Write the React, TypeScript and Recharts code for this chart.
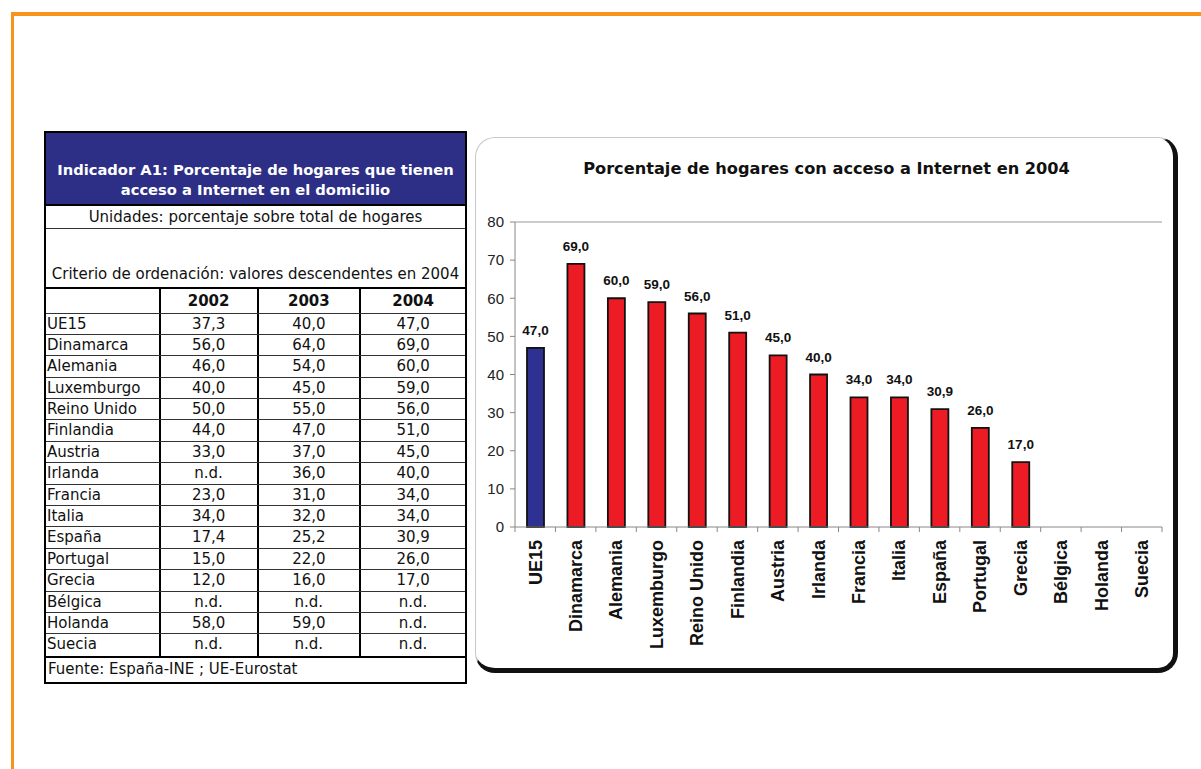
import React from "react";
import { BarChart, Bar, XAxis, YAxis, LabelList, ReferenceLine, Cell } from "recharts";

const countries = [
  "UE15", "Dinamarca", "Alemania", "Luxemburgo", "Reino Unido", "Finlandia", "Austria", "Irlanda",
  "Francia", "Italia", "España", "Portugal", "Grecia", "Bélgica", "Holanda", "Suecia",
];
const share2002 = ["37,3", "56,0", "46,0", "40,0", "50,0", "44,0", "33,0", "n.d.", "23,0", "34,0", "17,4", "15,0", "12,0", "n.d.", "58,0", "n.d."];
const share2003 = ["40,0", "64,0", "54,0", "45,0", "55,0", "47,0", "37,0", "36,0", "31,0", "32,0", "25,2", "22,0", "16,0", "n.d.", "59,0", "n.d."];
const share2004: (number | null)[] = [47, 69, 60, 59, 56, 51, 45, 40, 34, 34, 30.9, 26, 17, null, null, null];
const years = ["2002", "2003", "2004"];
const yTicks = [0, 10, 20, 30, 40, 50, 60, 70, 80];

const fmt = (v: number | null | undefined) => (v == null ? "n.d." : v.toFixed(1).replace(".", ","));

const data = countries.map((name, i) => ({ name, value: share2004[i] }));

// chart geometry
const CHART_W = 700;
const CHART_H = 520;
const Y_W = 45;
const X_H = 120;
const MARGIN = { top: 82, right: 8, left: 0, bottom: 13 };
const PLOT_W = CHART_W - Y_W - MARGIN.right;

const tableFont = "'DejaVu Sans', Verdana, sans-serif";
const chartFont = "'Liberation Sans', Arial, sans-serif";
const COLS = [118, 98, 103, 104];
const ROW_H = 21.4;

function CountryTick(props: any) {
  const { x, y, payload, index } = props;
  const half = PLOT_W / countries.length / 2;
  return (
    <g>
      <line x1={x - half} x2={x - half} y1={y} y2={y + 5} stroke="#888" />
      {index === countries.length - 1 && <line x1={x + half} x2={x + half} y1={y} y2={y + 5} stroke="#888" />}
      <text
        x={0}
        y={0}
        dy="0.35em"
        transform={`translate(${x},${y + 13}) rotate(-90)`}
        textAnchor="end"
        fontFamily={chartFont}
        fontWeight="bold"
        fontSize={18}
        fill="#111"
      >
        {payload.value}
      </text>
    </g>
  );
}

function Row({ cells, height, bold, last }: { cells: string[]; height: number; bold?: boolean; last?: boolean }) {
  return (
    <div style={{ display: "flex", height, borderBottom: last ? "none" : "1px solid #333", boxSizing: "border-box" }}>
      {cells.map((c, i) => (
        <div
          key={i}
          style={{
            width: COLS[i] - (i === 0 ? 3 : 0),
            boxSizing: "border-box",
            borderRight: i < 3 ? "2.5px solid #000" : "none",
            textAlign: i === 0 ? "left" : "center",
            paddingLeft: i === 0 ? 1 : 0,
            fontWeight: bold ? "bold" : "normal",
            lineHeight: `${height - 1}px`,
            whiteSpace: "nowrap",
          }}
        >
          {c}
        </div>
      ))}
    </div>
  );
}

function DataTable() {
  return (
    <div
      style={{
        position: "absolute",
        left: 44,
        top: 131,
        width: 423,
        boxSizing: "border-box",
        border: "2.5px solid #000",
        fontFamily: tableFont,
        fontSize: 15,
        color: "#111",
        background: "#fff",
      }}
    >
      <div
        style={{
          height: 72.5,
          background: "#2d2f86",
          color: "#fff",
          fontWeight: "bold",
          fontSize: 14.7,
          textAlign: "center",
          display: "flex",
          flexDirection: "column",
          justifyContent: "flex-end",
          paddingBottom: 4,
          boxSizing: "border-box",
          lineHeight: "20px",
          borderBottom: "2px solid #000",
        }}
      >
        <div>Indicador A1: Porcentaje de hogares que tienen</div>
        <div>acceso a Internet en el domicilio</div>
      </div>
      <div style={{ height: 23, textAlign: "center", lineHeight: "22px", borderBottom: "1px solid #333", boxSizing: "border-box" }}>
        Unidades: porcentaje sobre total de hogares
      </div>
      <div
        style={{
          height: 60,
          textAlign: "center",
          display: "flex",
          alignItems: "flex-end",
          justifyContent: "center",
          paddingBottom: 4,
          borderBottom: "2px solid #000",
          boxSizing: "border-box",
          whiteSpace: "nowrap",
        }}
      >
        Criterio de ordenación: valores descendentes en 2004
      </div>
      <Row cells={["", ...years]} height={25} bold />
      {countries.map((c, i) => (
        <Row key={c} cells={[c, share2002[i], share2003[i], fmt(share2004[i])]} height={ROW_H} last={i === countries.length - 1} />
      ))}
      <div style={{ height: 26, borderTop: "2px solid #000", lineHeight: "23px", paddingLeft: 2, boxSizing: "border-box" }}>
        Fuente: España-INE ; UE-Eurostat
      </div>
    </div>
  );
}

export default function App() {
  return (
    <div style={{ position: "absolute", left: 0, top: 0, width: 1201, height: 769, background: "#fff", overflow: "hidden" }}>
      <div style={{ position: "absolute", left: 11, top: 12, width: 1190, height: 4, background: "#f7941d" }} />
      <div style={{ position: "absolute", left: 11, top: 12, width: 3, height: 757, background: "#f7941d" }} />

      <DataTable />

      <div
        style={{
          position: "absolute",
          left: 475,
          top: 137,
          width: 703,
          height: 536,
          boxSizing: "border-box",
          border: "1px solid #c8c8c8",
          borderRight: "5px solid #111",
          borderBottom: "5px solid #111",
          borderRadius: 20,
          background: "#fff",
        }}
      />
      <div
        style={{
          position: "absolute",
          left: 475,
          width: 703,
          top: 159,
          textAlign: "center",
          fontFamily: tableFont,
          fontWeight: "bold",
          fontSize: 16.2,
          color: "#111",
        }}
      >
        Porcentaje de hogares con acceso a Internet en 2004
      </div>

      <div style={{ position: "absolute", left: 470, top: 140 }}>
        <BarChart width={CHART_W} height={CHART_H} data={data} margin={MARGIN}>
          <XAxis
            dataKey="name"
            interval={0}
            height={X_H}
            tickSize={0}
            tickMargin={0}
            tickLine={false}
            axisLine={{ stroke: "#888" }}
            tick={<CountryTick />}
          />
          <YAxis
            yAxisId="l"
            width={Y_W}
            domain={[0, 80]}
            ticks={yTicks}
            tickSize={5}
            tickMargin={6}
            axisLine={{ stroke: "#888" }}
            tickLine={{ stroke: "#888" }}
            tick={{ fill: "#222", fontSize: 15, fontFamily: chartFont }}
          />
          <YAxis yAxisId="r" orientation="right" width={0} domain={[0, 80]} tick={false} tickLine={false} axisLine={{ stroke: "#999" }} />
          <ReferenceLine yAxisId="l" y={80} stroke="#999" />
          <Bar yAxisId="l" dataKey="value" barSize={17} stroke="#111" strokeWidth={1.8} isAnimationActive={false}>
            {data.map((d, i) => (
              <Cell key={d.name} fill={i === 0 ? "#2e3192" : "#ed1c24"} />
            ))}
            <LabelList
              dataKey="value"
              position="top"
              offset={13}
              formatter={(v: any) => (v == null ? "" : fmt(v))}
              style={{ fontFamily: chartFont, fontWeight: "bold", fontSize: 13.5, fill: "#111" }}
            />
          </Bar>
        </BarChart>
      </div>
    </div>
  );
}
